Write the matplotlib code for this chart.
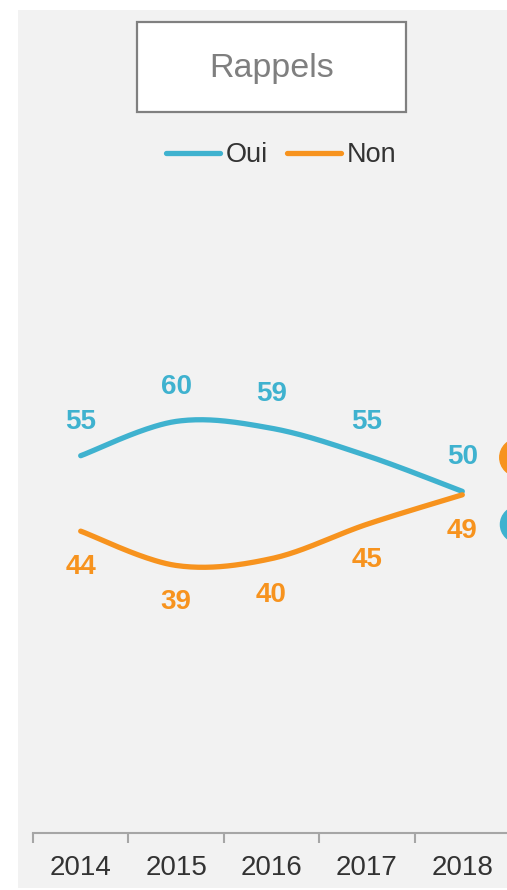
import numpy as np
import matplotlib
matplotlib.use("Agg")
import matplotlib.pyplot as plt
from matplotlib.patches import Rectangle

plt.rcParams['font.family'] = ['Liberation Sans', 'DejaVu Sans']

# data
years = ['2014', '2015', '2016', '2017', '2018']
oui = [55, 60, 59, 55, 49.8]
non = [44, 39, 40, 45, 49.3]
# first points of the next panel, cut by the right edge
next_oui = 45
next_non = 54.8

title = 'Rappels'
BLUE = '#3fb2cf'
ORANGE = '#f7931e'
TXT = '#333333'
GRID = '#a6a6a6'


def smooth(xs, ys, n=40):
    # excel style smoothed line (catmull-rom as bezier)
    P = np.column_stack([xs, ys]).astype(float)
    P = np.vstack([P[0], P, P[-1]])
    out = []
    for i in range(1, len(P) - 2):
        p0, p1, p2, p3 = P[i - 1], P[i], P[i + 1], P[i + 2]
        c1 = p1 + (p2 - p0) / 6
        c2 = p2 - (p3 - p1) / 6
        t = np.linspace(0, 1, n)[:, None]
        seg = (1 - t)**3 * p1 + 3 * (1 - t)**2 * t * c1 + 3 * (1 - t) * t**2 * c2 + t**3 * p2
        out.append(seg if i == 1 else seg[1:])
    out = np.vstack(out)
    return out[:, 0], out[:, 1]


W, H = 507, 890
fig = plt.figure(figsize=(W / 100, H / 100), dpi=100)
fig.patch.set_facecolor('white')
fig.patches.append(Rectangle((18 / W, 2 / H), 1, (888 - 10) / H, transform=fig.transFigure,
                             facecolor='#f2f2f2', edgecolor='none', zorder=-10))

# title box
fig.patches.append(Rectangle((137 / W, 1 - 112 / H), (406 - 137) / W, 90 / H, transform=fig.transFigure,
                             facecolor='white', edgecolor='#808080', linewidth=1.6, zorder=1))
fig.text(271.5 / W, 1 - 68 / H, title, ha='center', va='center', fontsize=24.5, color='#7f7f7f')

ax_bottom = 1 - 833 / H
ax_top = 1 - 147 / H
ax = fig.add_axes([33 / W, ax_bottom, 477 / W, ax_top - ax_bottom])
ax.set_facecolor('none')
x = np.arange(len(years))
ax.set_xlim(-0.5, len(years) - 0.5)
ax.set_ylim(0, 100)

xs, ys = smooth(x, oui)
l1, = ax.plot(xs, ys, color=BLUE, lw=3.8, solid_capstyle='round', label='Oui')
xs, ys = smooth(x, non)
l2, = ax.plot(xs, ys, color=ORANGE, lw=3.8, solid_capstyle='round', label='Non')

for i in range(len(years)):
    ax.annotate(f'{oui[i]:.0f}', (x[i], oui[i]), xytext=(0, 24.5), textcoords='offset points',
                ha='center', va='center', fontsize=20, fontweight='bold', color=BLUE)
    ax.annotate(f'{non[i]:.0f}', (x[i], non[i]), xytext=(0, -26), textcoords='offset points',
                ha='center', va='center', fontsize=20, fontweight='bold', color=ORANGE)

ax.scatter([4.58], [next_non], s=27**2, color=ORANGE, clip_on=False, zorder=3)
ax.scatter([4.58], [next_oui], s=26**2, color=BLUE, clip_on=False, zorder=3)

for s in ['top', 'left', 'right']:
    ax.spines[s].set_visible(False)
ax.spines['bottom'].set_color(GRID)
ax.spines['bottom'].set_linewidth(1.5)
ax.set_yticks([])
ax.set_xticks(x)
ax.set_xticklabels(years, fontsize=20, color=TXT)
ax.set_xticks(np.arange(-0.5, len(years)), minor=True)
ax.tick_params(axis='x', which='major', length=0, pad=16)
ax.tick_params(axis='x', which='minor', length=7, width=1.5, color=GRID)

fig.legend(handles=[l1, l2], loc='center', bbox_to_anchor=(281 / W, 1 - 155 / H), ncol=2,
           frameon=False, fontsize=19.5, handlelength=2.0, handletextpad=0.2, columnspacing=0.7,
           labelcolor=TXT, borderpad=0)

fig.savefig('out.png', dpi=100)
